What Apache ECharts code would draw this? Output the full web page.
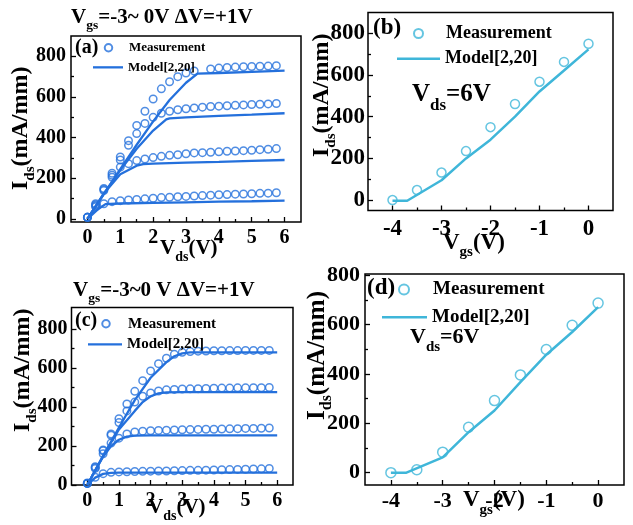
<!DOCTYPE html>
<html><head><meta charset="utf-8">
<script src="https://cdn.jsdelivr.net/npm/echarts@6/dist/echarts.min.js"></script>
<style>html,body{margin:0;padding:0;background:#fff}#c{width:633px;height:525px}</style>
</head><body><div id="c"></div>
<script>
// ---------- data ----------
const vdsMeas = [0,0.25,0.5,0.75,1,1.25,1.5,1.75,2,2.25,2.5,2.75,3,3.25,3.5,3.75,4,4.25,4.5,4.75,5,5.25,5.5,5.75];
// panel (a) measurement, Vgs = -3, -2, -1, 0 V
const measA_m3 = [8,60,75,85,90,93,96,99,102,105,107,109,111,113,115,117,119,120,122,123,124,126,127,129];
const measA_m2 = [8,65,140,205,255,272,287,295,302,308,313,316,321,325,326,328,330,333,334,336,338,341,343,346];
const measA_m1 = [8,70,145,215,290,362,420,470,500,520,530,537,542,546,550,553,555,557,559,561,563,564,566,568];
const measA_0  = [8,75,150,225,305,385,460,530,590,640,675,700,718,728,null,738,742,745,747,749,750,751,752,754];
// panel (a) model
const modA_m3_x = [0,0.3,0.55,1,2,3,4,5,6];           const modA_m3_y = [0,45,73,76,79,82,85,87,90];
const modA_m2_x = [0,0.5,1,1.5,1.7,2,3,4,5,6];        const modA_m2_y = [0,125,220,262,270,272,277,281,286,290];
const modA_m1_x = [0,0.5,1,1.5,2,2.4,2.5,3,4,5,6];    const modA_m1_y = [0,125,240,345,435,490,495,500,507,513,520];
const modA_0_x  = [0,0.5,1,1.5,2,2.5,3,3.35,4,5,6];   const modA_0_y  = [0,122,245,365,480,585,670,715,718,724,730];
// panel (c) measurement
const measC_m3 = [8,40,58,65,67,68,69,70,71,72,72,73,74,75,75,76,77,78,79,80,81,82,83,85];
const measC_m2 = [8,85,160,215,240,262,272,276,278,280,281,282,283,284,285,286,286,287,288,289,290,290,291,292];
const measC_m1 = [8,90,175,255,320,380,425,455,472,482,488,490,492,493,494,495,496,497,497,498,498,499,499,500];
const measC_0  = [10,94,180,262,340,415,480,535,585,622,650,670,680,684,686,687,688,688,689,689,690,690,690,690];
// panel (c) model
const modC_m3_x = [0,0.25,0.5,0.75,1,6];                  const modC_m3_y = [0,38,57,62,63,63];
const modC_m2_x = [0,0.25,0.5,0.75,1,1.25,1.5,2,6];       const modC_m2_y = [0,75,145,200,232,248,253,254,254];
const modC_m1_x = [0,0.5,1,1.5,1.75,2,2.25,2.5,3,6];      const modC_m1_y = [0,150,285,380,425,455,470,475,476,476];
const modC_0_x  = [0,0.5,1,1.5,2,2.5,2.75,3,3.25,6];      const modC_0_y  = [0,150,295,435,550,630,660,675,680,680];
// panels (b), (d): transfer at Vds = 6 V
const vgsMeas = [-4,-3.5,-3,-2.5,-2,-1.5,-1,-0.5,0];
const measB = [0,48,132,235,350,461,568,663,750];
const measD = [0,12,83,184,292,396,499,597,687];
const vgsMod = [-4,-3.7,-3,-2.5,-2,-1.5,-1,-0.5,0];
const modB = [-3,-3,95,200,290,400,521,622,723];
const modD = [0,0,62,164,252,367,478,570,671];
// ticks
const vdsTicks = [0,1,2,3,4,5,6];
const vdsMinor = [0.5,1.5,2.5,3.5,4.5,5.5];
const vgsTicks = [-4,-3,-2,-1,0];
const vgsMinor = [-3.5,-2.5,-1.5,-0.5];
const idsTicks = [0,200,400,600,800];
const idsMinor = [100,300,500,700];

// ---------- helpers ----------
const FONT = '"Liberation Serif","Times New Roman",serif';
const BLUE = '#2470dc', CYAN = '#3fb6d9';
const cv = document.createElement('canvas').getContext('2d');
function tw(t, s){ cv.font = 'bold ' + s + 'px ' + FONT; return cv.measureText(t).width; }
function label(parts, x, y, rot){
  const children = []; let cx = 0;
  parts.forEach(([t, s, dy]) => {
    children.push({type:'text', x:cx, y:dy - 0.34*s,
      style:{text:t, font:'bold ' + s + 'px ' + FONT, fill:'#000', textAlign:'left', textVerticalAlign:'middle'}});
    cx += tw(t, s);
  });
  return {type:'group', x:x, y:y, rotation:rot || 0, children:children};
}
const pairs = (xs, ys) => xs.map((x, i) => [x, ys[i]]).filter(p => p[1] !== null);

// legend layout: lineL = left of line icon, circ = circle centre x, text = text start x
const panels = [
  {key:'a', color:BLUE, grid:{left:71, top:36, width:230, height:186},
   x:{min:-0.5, max:6.5, ticks:vdsTicks, minor:vdsMinor, fs:20, margin:6},
   y:{min:-15, max:900, ticks:idsTicks, minor:idsMinor, fs:20, margin:5},
   meas:[[vdsMeas, measA_m3],[vdsMeas, measA_m2],[vdsMeas, measA_m1],[vdsMeas, measA_0]],
   mod:[[modA_m3_x, modA_m3_y],[modA_m2_x, modA_m2_y],[modA_m1_x, modA_m1_y],[modA_0_x, modA_0_y]],
   sym:7.5, lw:2.3,
   legend:{lineL:93, circ:107.5, text:128, row1:45, row2:62, fs:13}},
  {key:'b', color:CYAN, grid:{left:368, top:12.5, width:245, height:198},
   x:{min:-4.5, max:0.5, ticks:vgsTicks, minor:vgsMinor, fs:23, margin:7},
   y:{min:-50, max:900, ticks:idsTicks, minor:idsMinor, fs:23, margin:3},
   meas:[[vgsMeas, measB]], mod:[[vgsMod, modB]], sym:9, lw:2.5,
   legend:{lineL:397, circ:417.5, text:445, row1:29, row2:51, fs:18}},
  {key:'c', color:BLUE, grid:{left:71.5, top:307.5, width:221.5, height:177.5},
   x:{min:-0.5, max:6.5, ticks:vdsTicks, minor:vdsMinor, fs:20, margin:6},
   y:{min:0, max:910, ticks:idsTicks, minor:idsMinor, fs:20, margin:4},
   meas:[[vdsMeas, measC_m3],[vdsMeas, measC_m2],[vdsMeas, measC_m1],[vdsMeas, measC_0]],
   mod:[[modC_m3_x, modC_m3_y],[modC_m2_x, modC_m2_y],[modC_m1_x, modC_m1_y],[modC_0_x, modC_0_y]],
   sym:7.5, lw:2.3,
   legend:{lineL:88, circ:105, text:127, row1:320, row2:338, fs:15}},
  {key:'d', color:CYAN, grid:{left:365, top:274, width:259, height:211},
   x:{min:-4.5, max:0.5, ticks:vgsTicks, minor:vgsMinor, fs:22, margin:5},
   y:{min:-50, max:805, ticks:idsTicks, minor:idsMinor, fs:22, margin:5},
   meas:[[vgsMeas, measD]], mod:[[vgsMod, modD]], sym:10, lw:2.5,
   legend:{lineL:382, circ:403, text:432, row1:285, row2:309, fs:19}}
];

const grid = [], xAxis = [], yAxis = [], series = [], legend = [];
panels.forEach((p, gi) => {
  grid.push(Object.assign({show:true, borderColor:'#000', borderWidth:1.5, backgroundColor:'transparent'}, p.grid));
  const tickStyle = {color:'#000', width:1.3};
  const mk = (a, pos) => [
    {gridIndex:gi, type:'value', min:a.min, max:a.max, position:pos,
     axisLine:{show:false, onZero:false}, splitLine:{show:false},
     axisTick:{show:true, inside:true, length:5, customValues:a.ticks, lineStyle:tickStyle},
     axisLabel:{show:true, customValues:a.ticks, margin:a.margin, color:'#000', fontFamily:FONT, fontWeight:'bold', fontSize:a.fs}},
    {gridIndex:gi, type:'value', min:a.min, max:a.max, position:pos,
     axisLine:{show:false, onZero:false}, splitLine:{show:false},
     axisTick:{show:true, inside:true, length:3, customValues:a.minor, lineStyle:tickStyle},
     axisLabel:{show:false}}
  ];
  xAxis.push(...mk(p.x, 'bottom'));
  yAxis.push(...mk(p.y, 'left'));
  const mName = p.key + '|Measurement', lName = p.key + '|Model[2,20]';
  p.mod.forEach(([xs, ys]) => series.push({type:'line', name:lName, xAxisIndex:2*gi, yAxisIndex:2*gi,
    data:pairs(xs, ys), symbol:'none', clip:false, lineStyle:{color:p.color, width:p.lw}, itemStyle:{color:p.color}, z:2}));
  p.meas.forEach(([xs, ys]) => series.push({type:'scatter', name:mName, xAxisIndex:2*gi, yAxisIndex:2*gi,
    data:pairs(xs, ys), symbol:'circle', symbolSize:p.sym, clip:false,
    itemStyle:{color:'transparent', borderColor:p.color, borderWidth:1.5}, z:3}));
  const L = p.legend;
  const ts = {fontFamily:FONT, fontWeight:'bold', fontSize:L.fs, color:'#000'};
  const fmt = n => n.split('|')[1];
  const wCirc = 2 * (L.text - 5 - L.circ);
  legend.push({left:L.circ - p.sym/2, top:L.row1 - p.sym/2, orient:'vertical', padding:0,
    itemWidth:wCirc, itemHeight:p.sym, data:[mName], formatter:fmt, selectedMode:false, textStyle:ts});
  legend.push({left:L.lineL, top:L.row2 - p.lw/2, orient:'vertical', padding:0,
    itemWidth:L.text - 5 - L.lineL, itemHeight:p.lw, data:[{name:lName, icon:'rect'}], formatter:fmt, selectedMode:false,
    itemStyle:{color:p.color}, textStyle:ts});
});

const R = Math.PI/2;
const graphic = [
  label([['V',21,0],['gs',13.5,5],['=-3~ 0V \u0394V=+1V',21,0]], 71, 25),
  label([['V',21,0],['gs',13.5,5],['=-3~0 V \u0394V=+1V',21,0]], 73, 298),
  label([['(a)',20,0]], 75, 55),
  label([['(b)',23,0]], 373, 36),
  label([['(c)',20,0]], 75, 328),
  label([['(d)',23,0]], 367, 296),
  label([['V',25,0],['ds',17,8],['=6V',25,0]], 412, 103),
  label([['V',22,0],['ds',15,7],['=6V',22,0]], 410, 345),
  label([['V',21,0],['ds',14,6],['(V)',21,0]], 160, 256),
  label([['V',21,0],['ds',14,6],['(V)',21,0]], 148, 515),
  label([['V',23,0],['gs',15,6],['(V)',23,0]], 443, 251),
  label([['V',23,0],['gs',15,7],['(V)',23,0]], 463, 508),
  label([['I',24,0],['ds',15,6],['(mA/mm)',24,0]], 29, 190, R),
  label([['I',24,0],['ds',15,6],['(mA/mm)',24,0]], 31, 432, R),
  label([['I',24,0],['ds',15,6],['(mA/mm)',24,0]], 330, 157, R),
  label([['I',25,0],['ds',16,6],['(mA/mm)',25,0]], 326, 420, R)
];

const chart = echarts.init(document.getElementById('c'), null, {renderer:'canvas'});
chart.setOption({animation:false, backgroundColor:'#fff', grid, xAxis, yAxis, series, legend, graphic});
</script></body></html>
